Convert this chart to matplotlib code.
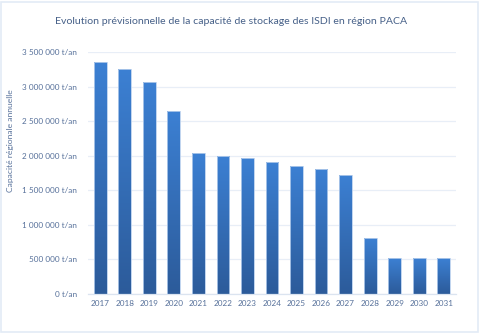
import numpy as np
import matplotlib.pyplot as plt
from matplotlib.colors import LinearSegmentedColormap
from matplotlib.patches import Rectangle

plt.rcParams['font.family'] = ['Lato', 'DejaVu Sans']

# capacité de stockage par année (t/an)
annees = ['2017', '2018', '2019', '2020', '2021', '2022', '2023', '2024',
          '2025', '2026', '2027', '2028', '2029', '2030', '2031']
capacite = [3355000, 3255000, 3070000, 2650000, 2040000, 2000000, 1970000, 1915000,
            1855000, 1810000, 1720000, 812000, 520000, 520000, 520000]
graduations = [0, 500000, 1000000, 1500000, 2000000, 2500000, 3000000, 3500000]

texte = '#56709a'
degrade = LinearSegmentedColormap.from_list('bleu', ['#2c5b9a', '#3c80d3'])

fig = plt.figure(figsize=(4.8, 3.33), dpi=100)
fig.patch.set_facecolor('white')
# cadre autour de la figure
fig.add_artist(Rectangle((0.003, 0.004), 0.993, 0.991, transform=fig.transFigure,
                         fill=False, edgecolor='#e3ebf6', linewidth=1.2))

ax = fig.add_axes([0.1833, 0.1171, 0.7667, 0.7258])
x = np.arange(len(annees))
barres = ax.bar(x, capacite, width=0.52, color='none', edgecolor='#b5cdec',
                linewidth=0.6, zorder=3)

# remplissage en dégradé vertical de chaque barre
grad = np.linspace(0, 1, 256).reshape(-1, 1)
for b in barres:
    x0, w, h = b.get_x(), b.get_width(), b.get_height()
    im = ax.imshow(grad, cmap=degrade, aspect='auto', origin='lower',
                   extent=(x0, x0 + w, 0, h), zorder=2)
    im.set_clip_path(b)

ax.set_xlim(-0.5, len(annees) - 0.5)
ax.set_ylim(0, 3500000)
ax.set_xticks(x)
ax.set_xticklabels(annees)
ax.set_yticks(graduations)
ax.set_yticklabels([('{:,}'.format(v).replace(',', ' ') + ' t/an') for v in graduations])
ax.tick_params(axis='both', length=0, labelsize=5.9, labelcolor=texte)
ax.tick_params(axis='y', pad=8)
ax.tick_params(axis='x', pad=4.5)
ax.grid(axis='y', color='#e8eef7', linewidth=0.9, zorder=0)
ax.set_axisbelow(True)
for s in ['top', 'right', 'left']:
    ax.spines[s].set_visible(False)
ax.spines['bottom'].set_color('#dbe4f0')
ax.spines['bottom'].set_linewidth(0.9)

fig.text(0.481, 0.936, 'Evolution prévisionnelle de la capacité de stockage des ISDI en région PACA',
         ha='center', va='center', fontsize=7.55, color='#466088')
fig.text(0.022, 0.577, 'Capacité régionale annuelle', rotation=90,
         ha='center', va='center', fontsize=6.1, color=texte)

fig.savefig('out.png', dpi=100)
